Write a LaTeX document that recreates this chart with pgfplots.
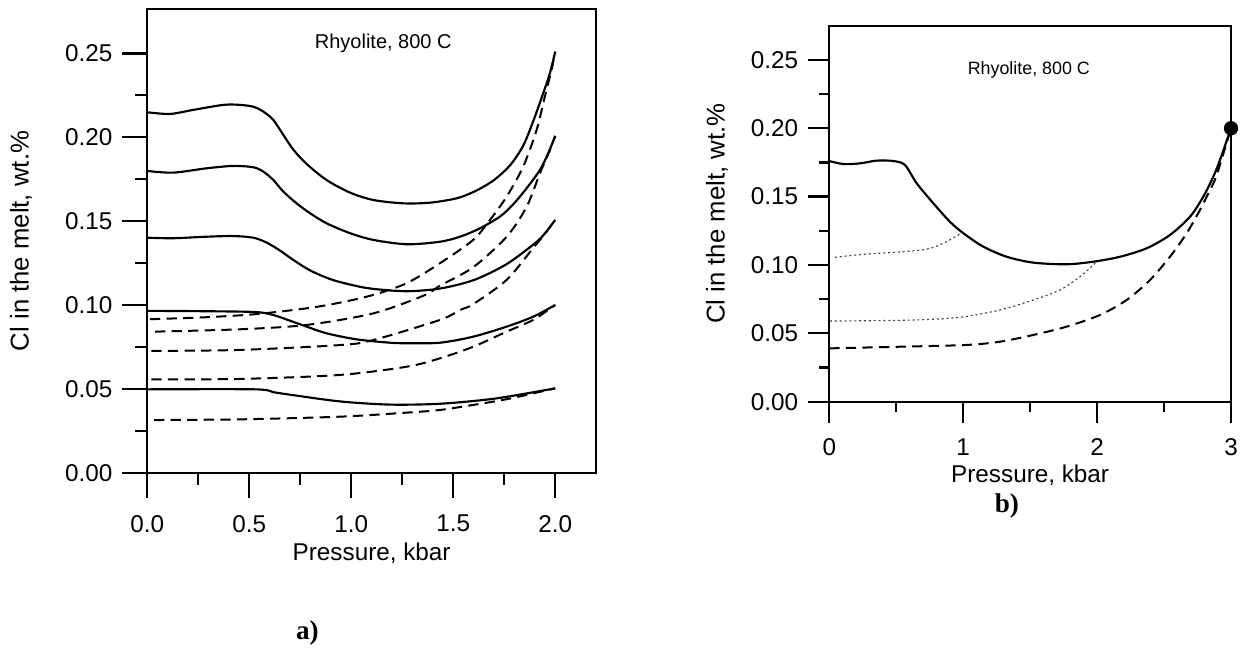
\documentclass[border=0pt]{standalone}
\usepackage{pgfplots}
\pgfplotsset{compat=1.18}
\usepackage{fontspec}
\setmainfont{Liberation Sans}
\newfontfamily\serifbf{Liberation Serif}

\pgfplotsset{
  panel/.style={
    scale only axis,
    axis line style={line width=0.8pt},
    every tick/.style={line width=0.8pt, black},
    tick align=outside,
    tick pos=left,
    /pgf/number format/assume math mode=true,
    ticklabel style={font=\fontsize{8.5}{10}\selectfont},
    xlabel style={font=\fontsize{8.5}{10}\selectfont},
    ylabel style={font=\fontsize{9}{10}\selectfont},
    minor x tick num=1,
    minor y tick num=1,
    ymin=0,
    ytick={0,0.05,0.1,0.15,0.2,0.25},
    yticklabel style={/pgf/number format/.cd, fixed, fixed zerofill, precision=2},
    ylabel={Cl in the melt, wt.\%},
    xlabel={Pressure, kbar},
    clip=false,
  },
  solidc/.style={black, line width=0.75pt, smooth},
  dashc/.style={black, line width=0.7pt, smooth, dash pattern=on 3.6pt off 2.2pt},
  dotc/.style={black!75, line width=0.4pt, smooth, dash pattern=on 0.7pt off 1pt},
}

\begin{document}
\begin{tikzpicture}
\useasboundingbox (0pt,0pt) rectangle (436.45pt,226.8pt);

% ---- panel a
\begin{axis}[panel,
  at={(51.555pt,61.355pt)}, anchor=south west,
  width=157.045pt, height=162.19pt,
  xmin=0, xmax=2.2, ymax=0.2763,
  xtick={0,0.5,1,1.5,2},
  xticklabel style={yshift=-2.6pt, /pgf/number format/.cd, fixed, fixed zerofill, precision=1},
  major tick length=8.7pt, minor tick length=4.2pt,
  ylabel style={at={(axis description cs:-0.2815,0.5)}, anchor=center},
  xlabel style={at={(axis description cs:0.5,-0.1733)}, anchor=center},
]
\addplot[solidc] coordinates {(0,0.2149) (0.111,0.2139) (0.225,0.2163) (0.373,0.2193) (0.454,0.2193) (0.520,0.2182) (0.569,0.2153) (0.618,0.2103) (0.667,0.2014) (0.716,0.1926) (0.781,0.1841) (0.879,0.1745) (0.994,0.1670) (1.108,0.1626) (1.255,0.1606) (1.386,0.1610) (1.517,0.1636) (1.610,0.1680) (1.700,0.1745) (1.780,0.1835) (1.843,0.1950) (1.892,0.2095) (1.941,0.2262) (1.974,0.2382) (2.0,0.2510)};
\addplot[solidc] coordinates {(0,0.1799) (0.127,0.1789) (0.291,0.1815) (0.422,0.1829) (0.520,0.1821) (0.569,0.1795) (0.618,0.1745) (0.667,0.1676) (0.732,0.1606) (0.798,0.1547) (0.879,0.1487) (0.994,0.1428) (1.108,0.1388) (1.272,0.1362) (1.435,0.1377) (1.533,0.1407) (1.631,0.1457) (1.729,0.1527) (1.794,0.1600) (1.860,0.1696) (1.925,0.1805) (1.966,0.1905) (2.0,0.2008)};
\addplot[solidc] coordinates {(0,0.1401) (0.127,0.1398) (0.291,0.1407) (0.422,0.1411) (0.520,0.1401) (0.585,0.1372) (0.650,0.1325) (0.720,0.1265) (0.800,0.1205) (0.900,0.1153) (1.000,0.1120) (1.100,0.1097) (1.270,0.1082) (1.435,0.1098) (1.600,0.1148) (1.750,0.1235) (1.850,0.1320) (1.930,0.1400) (2.0,0.1507)};
\addplot[solidc] coordinates {(0,0.0965) (0.258,0.0963) (0.528,0.0958) (0.618,0.0940) (0.700,0.0906) (0.781,0.0871) (0.879,0.0831) (1.026,0.0795) (1.190,0.0775) (1.272,0.0772) (1.435,0.0775) (1.598,0.0811) (1.762,0.0871) (1.892,0.0930) (2.0,0.1000)};
\addplot[solidc] coordinates {(0,0.0497) (0.528,0.0497) (0.618,0.0480) (0.700,0.0465) (0.945,0.0425) (1.190,0.0406) (1.435,0.0411) (1.680,0.0438) (1.843,0.0469) (2.0,0.0503)};
\addplot[dashc] coordinates {(0.013,0.0915) (0.291,0.0927) (0.528,0.0945) (0.781,0.0980) (0.945,0.1014) (1.108,0.1060) (1.272,0.1130) (1.435,0.1249) (1.598,0.1388) (1.680,0.1507) (1.762,0.1646) (1.843,0.1825) (1.909,0.2044) (1.949,0.2242) (1.982,0.2401) (2.0,0.2510)};
\addplot[dashc] coordinates {(0.038,0.0841) (0.454,0.0855) (0.781,0.0881) (1.108,0.0950) (1.353,0.1055) (1.435,0.1115) (1.598,0.1225) (1.762,0.1407) (1.860,0.1586) (1.925,0.1785) (1.974,0.1924) (2.0,0.2008)};
\addplot[dashc] coordinates {(0.02,0.0726) (0.454,0.0732) (0.945,0.0761) (1.108,0.0791) (1.435,0.0911) (1.533,0.0970) (1.598,0.1005) (1.762,0.1150) (1.892,0.1340) (1.950,0.1425) (2.0,0.1507)};
\addplot[dashc] coordinates {(0.02,0.0557) (0.454,0.0559) (0.945,0.0583) (1.272,0.0632) (1.435,0.0682) (1.598,0.0751) (1.762,0.0841) (1.892,0.0911) (2.0,0.1000)};
\addplot[dashc] coordinates {(0.033,0.0314) (0.454,0.0318) (0.945,0.0334) (1.272,0.0358) (1.435,0.0374) (1.598,0.0404) (1.762,0.0438) (1.892,0.0473) (2.0,0.0503)};
\node[font=\fontsize{7}{8}\selectfont] at (axis cs:1.157,0.256) {Rhyolite, 800 C};
\end{axis}

% ---- panel b
\begin{axis}[panel,
  at={(290.255pt,86.205pt)}, anchor=south west,
  width=140.595pt, height=131.6pt,
  xmin=0, xmax=3, ymax=0.275,
  xtick={0,1,2,3},
  xticklabel style={yshift=-2pt},
  major tick length=7.4pt, minor tick length=3.6pt,
  ylabel style={at={(axis description cs:-0.2796,0.5)}, anchor=center},
  xlabel style={at={(axis description cs:0.5,-0.195)}, anchor=center},
]
\addplot[solidc] coordinates {(0,0.1760) (0.105,0.1738) (0.229,0.1743) (0.354,0.1763) (0.478,0.1760) (0.565,0.1731) (0.653,0.1597) (0.777,0.1451) (0.901,0.1316) (1.001,0.1232) (1.150,0.1134) (1.325,0.1060) (1.524,0.1017) (1.773,0.1005) (1.972,0.1024) (2.171,0.1060) (2.370,0.1122) (2.544,0.1219) (2.694,0.1353) (2.793,0.1499) (2.868,0.1646) (2.918,0.1768) (3,0.2)};
\addplot[dotc] coordinates {(0.042,0.1056) (0.279,0.1080) (0.528,0.1095) (0.727,0.1115) (0.851,0.1158) (0.976,0.1226) (1.0,0.1235)};
\addplot[dotc] coordinates {(0.005,0.0590) (0.279,0.0592) (0.653,0.0598) (0.976,0.0617) (1.275,0.0671) (1.524,0.0744) (1.723,0.0817) (1.872,0.0914) (1.972,0.1000) (1.99,0.1022)};
\addplot[dashc] coordinates {(0,0.0390) (0.528,0.0402) (1.026,0.0415) (1.275,0.0439) (1.524,0.0488) (1.773,0.0549) (2.021,0.0634) (2.221,0.0744) (2.395,0.0890) (2.544,0.1060) (2.669,0.1232) (2.768,0.1402) (2.843,0.1548) (2.893,0.1658) (3,0.2)};
\addplot[only marks, mark=*, mark size=2.3pt, black] coordinates {(3,0.2)};
\node[font=\fontsize{6.25}{7.5}\selectfont] at (axis cs:1.49,0.2426) {Rhyolite, 800 C};
\end{axis}

\node[font=\serifbf\bfseries\fontsize{9.5}{11}\selectfont] at (107.6pt,5.25pt) {a)};
\node[font=\serifbf\bfseries\fontsize{9.5}{11}\selectfont] at (352.4pt,49.6pt) {b)};
\end{tikzpicture}
\end{document}
